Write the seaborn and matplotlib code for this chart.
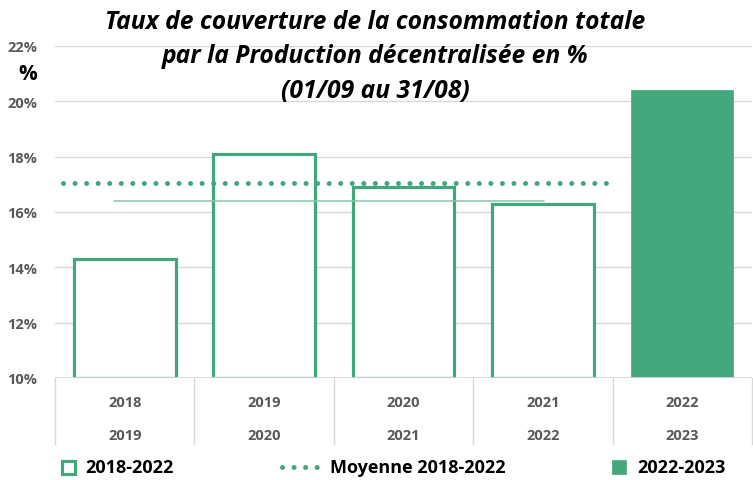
import matplotlib
matplotlib.use("Agg")
import matplotlib.pyplot as plt
import seaborn as sns
import pandas as pd
from matplotlib.lines import Line2D
from matplotlib.patches import Rectangle

# ---- data ----
years_top = ["2018", "2019", "2020", "2021", "2022"]
years_bot = ["2019", "2020", "2021", "2022", "2023"]
taux = [14.3, 18.1, 16.9, 16.3, 20.4]
moyenne_affichee = 17.05
moyenne_reelle = 16.38
yticks = [10, 12, 14, 16, 18, 20, 22]
legend_labels = ["2018-2022", "Moyenne 2018-2022", "2022-2023"]

GREEN = "#43a77c"
LIGHT = "#86c5a8"
GRID = "#d9d9d9"
TICK = "#595959"
BASE = 10
DOTS = (0, (0.01, 2.3))

sns.set_theme(style="white")
plt.rcParams["font.family"] = ["Open Sans", "DejaVu Sans"]

W, H = 753, 481
fig = plt.figure(figsize=(W/100, H/100), dpi=100)
ax = fig.add_axes([55/W, 1-379/H, 697/W, (379-47)/H])

labels = [f"{a}-{b}" for a, b in zip(years_top, years_bot)]
df = pd.DataFrame({"periode": labels, "h": [v - BASE for v in taux]})
sns.barplot(data=df, x="periode", y="h", bottom=BASE, ax=ax, width=0.73,
            color=GREEN, saturation=1)

for i, p in enumerate(ax.patches):
    if i < 4:
        p.set_facecolor("white")
        p.set_edgecolor(GREEN)
        p.set_linewidth(2.3)
    else:
        p.set_facecolor(GREEN)
        p.set_edgecolor(GREEN)
        p.set_linewidth(0.5)

ax.set_ylim(10, 22)
ax.set_xlim(-0.5, 4.5)
ax.set_yticks(yticks)
ax.set_yticklabels([f"{t}%" for t in yticks], color=TICK, fontsize=10.5,
                   fontweight="bold")
ax.tick_params(axis="y", length=0, pad=13)
ax.grid(axis="y", color=GRID, linewidth=1)
ax.set_axisbelow(True)
for s in ax.spines.values():
    s.set_visible(False)

# average lines
ax.plot([-0.44, 3.47], [moyenne_affichee]*2, color=GREEN, linewidth=3.6,
        linestyle=DOTS, dash_capstyle="round", zorder=5)
ax.plot([-0.08, 3.01], [moyenne_reelle]*2, color=LIGHT, linewidth=1.1, zorder=4)

# x axis: two-level labels
ax.set_xticks([])
ax.set_xlabel("")
ax.set_ylabel("")
ax.axhline(10, color=GRID, linewidth=1.2, zorder=1)
for i in range(6):
    xs = i - 0.5
    ax.plot([xs, xs], [10, 7.6], color=GRID, linewidth=1, clip_on=False)
for i, (a, b) in enumerate(zip(years_top, years_bot)):
    ax.text(i, 9.13, a, ha="center", va="center", color=TICK, fontsize=10.5,
            fontweight="bold", clip_on=False)
    ax.text(i, 7.95, b, ha="center", va="center", color=TICK, fontsize=10.5,
            fontweight="bold", clip_on=False)

# "%" label
fig.text(28/W, 1-75/H, "%", ha="center", va="center", fontsize=15,
         fontweight="bold", color="black")

# title
fig.text(375/W, 1-57/H,
         "Taux de couverture de la consommation totale\npar la Production décentralisée en %\n(01/09 au 31/08)",
         ha="center", va="center", fontsize=17.7, fontweight="bold",
         style="italic", color="black", linespacing=1.5)

# legend (placed manually in figure pixels)
ly = 1 - 468/H
fig.add_artist(Rectangle((62/W, ly - 7/H), 13/W, 13/H, transform=fig.transFigure,
                         facecolor="white", edgecolor=GREEN, linewidth=2.3))
fig.add_artist(Line2D([282/W, 318/W], [ly, ly], transform=fig.transFigure,
                      color=GREEN, linewidth=3.6, linestyle=DOTS,
                      dash_capstyle="round"))
fig.add_artist(Rectangle((612/W, ly - 7/H), 14/W, 14/H, transform=fig.transFigure,
                         facecolor=GREEN, edgecolor=GREEN, linewidth=0.5))
for x, t in zip([85, 330, 637], legend_labels):
    fig.text(x/W, ly, t, ha="left", va="center", fontsize=13, fontweight="bold",
             color="black")

fig.savefig("out.png", dpi=100)
